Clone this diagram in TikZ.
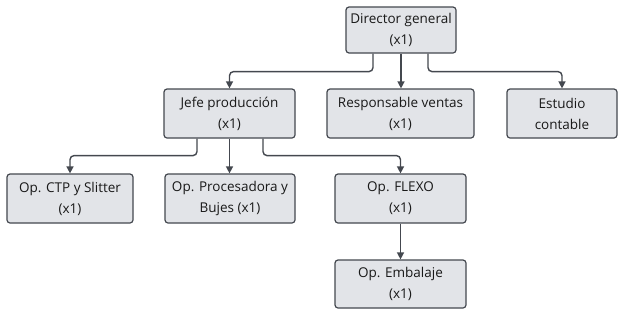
\documentclass[tikz,border=0pt]{standalone}
\usepackage{fontspec}
\setmainfont{Open Sans}
\usetikzlibrary{arrows.meta}
\definecolor{boxfill}{HTML}{E2E4E8}
\definecolor{boxline}{HTML}{44484F}
\tikzset{
  box/.style={draw=boxline, fill=boxfill, line width=1.2bp, rounded corners=3bp,
    align=center, font=\fontsize{13.5bp}{21bp}\selectfont, inner sep=0pt, text=black!90},
  conn/.style={draw=boxline, line width=1.4bp, rounded corners=4bp,
    -{Triangle[length=7bp,width=7bp]}}
}
\begin{document}
\begin{tikzpicture}[x=1bp,y=-1bp]
\useasboundingbox (0,0) rectangle (624,316);
\node[box, minimum width=110bp, minimum height=46bp] (dir) at (401,30) {Director general\\(x1)};
\node[box, minimum width=131bp, minimum height=49bp] (jefe) at (229.5,113.5) {Jefe producción\\(x1)};
\node[box, minimum width=147bp, minimum height=49bp] (resp) at (400.5,113.5) {Responsable ventas\\(x1)};
\node[box, minimum width=110bp, minimum height=49bp] (est) at (562,113.5) {Estudio\\contable};
\node[box, minimum width=126bp, minimum height=49bp] (ctp) at (70,198.5) {Op. CTP y Slitter\\(x1)};
\node[box, minimum width=130bp, minimum height=49bp] (proc) at (230,198.5) {Op. Procesadora y\\Bujes (x1)};
\node[box, minimum width=131bp, minimum height=49bp] (flexo) at (400.5,198.5) {Op. FLEXO\\(x1)};
\node[box, minimum width=131bp, minimum height=48bp] (emb) at (400.5,284) {Op. Embalaje\\(x1)};
\draw[conn] ([xshift=-28bp]dir.south) -- ++(0,18) -| (jefe.north);
\draw[conn] (dir.south) -- (dir.south |- resp.north);
\draw[conn] ([xshift=27bp]dir.south) -- ++(0,18) -| (est.north);
\draw[conn] ([xshift=-32.5bp]jefe.south) -- ++(0,17) -| (ctp.north);
\draw[conn] (jefe.south) -- (jefe.south |- proc.north);
\draw[conn] ([xshift=33.5bp]jefe.south) -- ++(0,17) -| (flexo.north);
\draw[conn] (flexo.south) -- (emb.north);
\end{tikzpicture}
\end{document}
